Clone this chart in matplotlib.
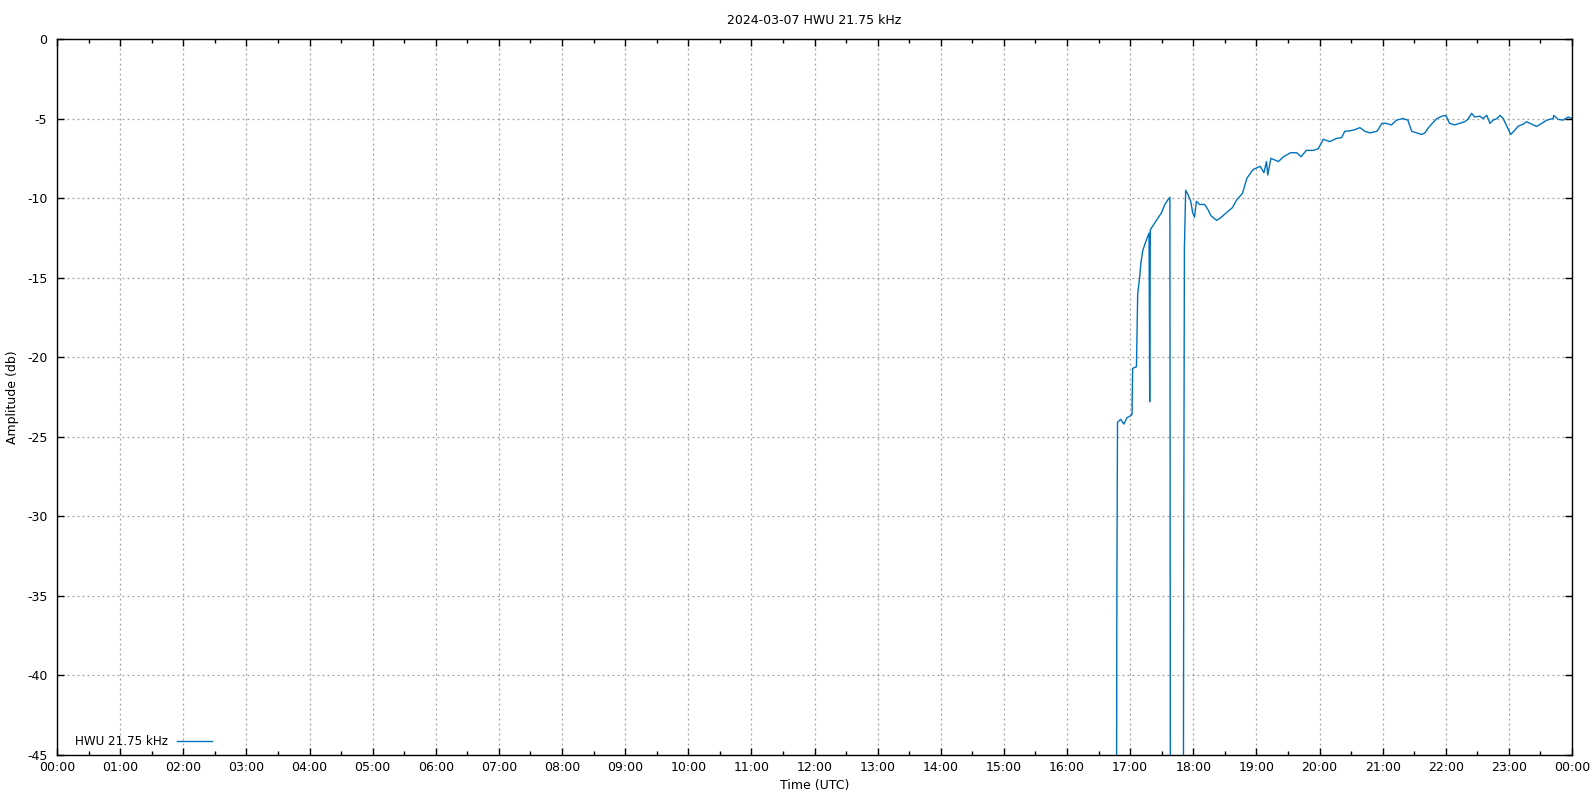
import matplotlib
matplotlib.use("Agg")
import matplotlib.pyplot as plt
from matplotlib.ticker import MultipleLocator, FuncFormatter

# time in hours UTC, amplitude in dB (values below -45 are off the plot)
hours = [16.70, 16.78, 16.79, 16.80, 16.85, 16.90, 16.95, 17.00, 17.03, 17.04,
         17.10, 17.12, 17.15, 17.17, 17.20, 17.26, 17.30, 17.31, 17.32, 17.35,
         17.40, 17.45, 17.50, 17.55, 17.60, 17.63, 17.64, 17.70, 17.84, 17.85,
         17.86, 17.88, 17.92, 17.96, 17.99, 18.02, 18.05, 18.10, 18.18, 18.23,
         18.28, 18.37, 18.43, 18.53, 18.62, 18.69, 18.78, 18.85, 18.95, 19.06,
         19.12, 19.16, 19.18, 19.23, 19.35, 19.43, 19.54, 19.64, 19.71, 19.79,
         19.90, 19.98, 20.06, 20.16, 20.27, 20.35, 20.40, 20.48, 20.56, 20.64,
         20.72, 20.80, 20.91, 20.99, 21.06, 21.14, 21.22, 21.32, 21.40, 21.46,
         21.54, 21.62, 21.67, 21.72, 21.81, 21.86, 21.94, 22.00, 22.06, 22.14,
         22.22, 22.30, 22.35, 22.41, 22.46, 22.54, 22.59, 22.65, 22.70, 22.75,
         22.81, 22.86, 22.91, 22.97, 23.03, 23.10, 23.15, 23.23, 23.28, 23.36,
         23.44, 23.52, 23.60, 23.70, 23.71, 23.78, 23.86, 23.94, 24.00]
amplitude = [-60.0, -60.0, -34.7, -24.1, -23.9, -24.2, -23.8, -23.7, -23.6, -20.7,
             -20.6, -16.0, -15.0, -14.1, -13.3, -12.6, -12.2, -22.8, -12.0, -11.8,
             -11.5, -11.2, -10.9, -10.4, -10.1, -9.95, -60.0, -60.0, -60.0, -30.3,
             -13.1, -9.5, -9.8, -10.2, -10.9, -11.2, -10.2, -10.4, -10.4, -10.7,
             -11.1, -11.4, -11.25, -10.9, -10.6, -10.1, -9.7, -8.75, -8.2, -8.0,
             -8.4, -7.7, -8.55, -7.5, -7.7, -7.4, -7.15, -7.15, -7.4, -7.0,
             -7.0, -6.9, -6.3, -6.45, -6.25, -6.2, -5.8, -5.77, -5.7, -5.57,
             -5.8, -5.9, -5.8, -5.3, -5.3, -5.4, -5.1, -5.0, -5.1, -5.8,
             -5.9, -6.0, -5.9, -5.6, -5.2, -5.0, -4.85, -4.8, -5.3, -5.4,
             -5.3, -5.2, -5.05, -4.67, -4.9, -4.85, -5.0, -4.8, -5.3, -5.1,
             -5.0, -4.8, -5.0, -5.5, -6.0, -5.7, -5.47, -5.35, -5.2, -5.35,
             -5.5, -5.3, -5.1, -5.0, -4.8, -5.05, -5.1, -4.9, -5.0]

plt.rcParams['font.family'] = ['DejaVu Sans']
plt.rcParams['font.size'] = 9
plt.rcParams['axes.unicode_minus'] = False

fig = plt.figure(figsize=(15.96, 7.97), dpi=100)
ax = fig.add_axes([57 / 1596, 1 - 755 / 797, (1572 - 57) / 1596, (755 - 39) / 797])

ax.plot(hours, amplitude, color='#0072bd', lw=1.0, label='HWU 21.75 kHz')

ax.set_xlim(0, 24)
ax.set_ylim(-45, 0)
ax.xaxis.set_major_locator(MultipleLocator(1))
ax.xaxis.set_minor_locator(MultipleLocator(0.5))
ax.yaxis.set_major_locator(MultipleLocator(5))
ax.xaxis.set_major_formatter(FuncFormatter(lambda v, p: '%02d:00' % (int(round(v)) % 24)))
ax.tick_params(which='both', direction='in', top=True, right=True, color='black')
ax.tick_params(which='major', length=5, width=1)
ax.tick_params(which='minor', length=3, width=1)
ax.tick_params(axis='x', pad=4)
ax.tick_params(axis='y', pad=7)
for s in ax.spines.values():
    s.set_linewidth(1)
ax.grid(True, which='major', color='#a0a0a0', linestyle=(0, (1.5, 2.5)), lw=0.9)

ax.set_title('2024-03-07 HWU 21.75 kHz', fontsize=9, pad=11)
ax.set_xlabel('Time (UTC)', labelpad=4)
ax.set_ylabel('Amplitude (db)')
ax.yaxis.set_label_coords(-0.025, 0.5)

ax.legend(loc='lower left', frameon=False, markerfirst=False, handlelength=2.9,
          fontsize=8.6, borderaxespad=0.2, bbox_to_anchor=(0.007, 0.0))

fig.savefig('out.png', dpi=100)
